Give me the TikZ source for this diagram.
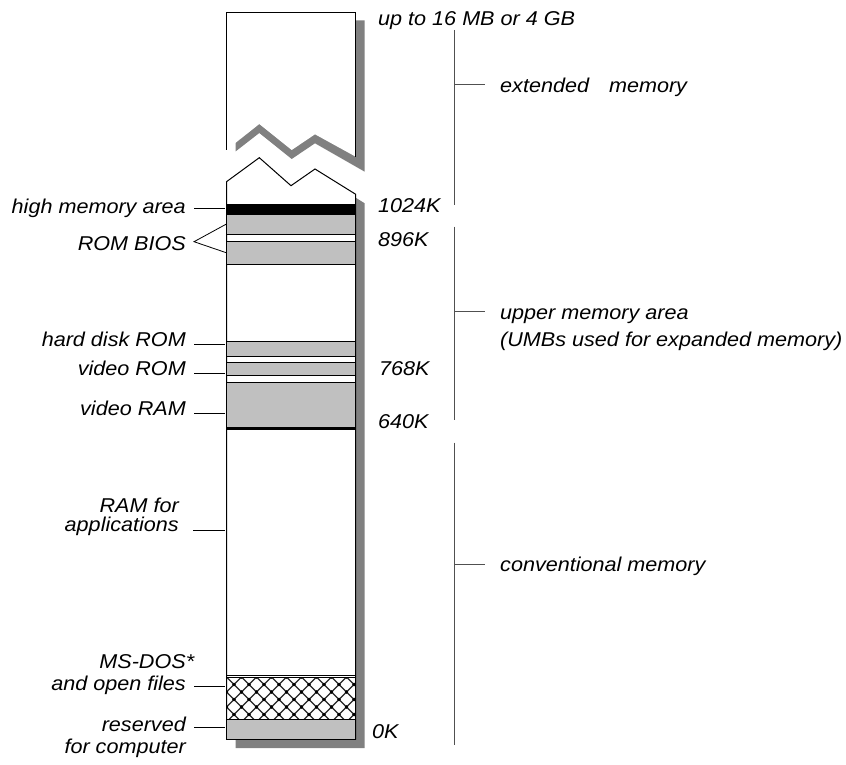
\documentclass[tikz,border=0pt]{standalone}
\usepackage{fontspec}
\setmainfont{Liberation Sans}[FakeStretch=1.08]
\usepackage{tikz}
\usetikzlibrary{positioning, calc}
\definecolor{bandgray}{HTML}{C0C0C0}
\definecolor{shadowgray}{HTML}{808080}
\definecolor{rangegray}{HTML}{505050}

\begin{document}
\begin{tikzpicture}[
    x=1pt, y=-1pt,
    font=\fontsize{20}{22}\selectfont\itshape,
    leftlbl/.style={anchor=base east, inner xsep=8pt, inner ysep=0pt, align=right},
    numlbl/.style={anchor=base west, inner sep=0pt},
    sidelbl/.style={anchor=base west, inner xsep=15pt, inner ysep=0pt, align=left},
    band/.style={draw=black, fill=bandgray, line width=1pt},
    leader/.style={draw=black, line width=0.8pt},
    rangeline/.style={draw=rangegray, line width=1pt},
    hatchline/.style={draw=black!85, line width=1.3pt}
]
    \useasboundingbox (0,0) rectangle (846,765);

    % drop shadows
    \fill[shadowgray] (235.5,20.5) -- (364.7,20.5) -- (364.7,171.7) -- (315,143.3) -- (291.7,159) -- (259.3,133) -- (235.5,151.5) -- cycle;
    \fill[shadowgray, shift={(9,9)}] (226.5,181.7) -- (259.3,157.7) -- (291,185.7) -- (315,169) -- (355.7,194.3) -- (355.7,739) -- (226.5,739) -- cycle;

    % broken column
    \fill[white] (226.5,12.5) -- (355.7,12.5) -- (355.7,156.7) -- (315,134.3) -- (291.7,150) -- (259.3,124) -- (226.5,150) -- cycle;
    \draw[leader, line width=1pt] (226.5,150) -- (226.5,12.5) -- (355.7,12.5) -- (355.7,156.7);
    \filldraw[fill=white, leader, line width=1pt] (226.5,181.7) -- (259.3,157.7) -- (291,185.7) -- (315,169) -- (355.7,194.3) -- (355.7,739) -- (226.5,739) -- cycle;

    % memory bands
    \fill[black] (226.5,204) rectangle (355.7,214);
    \filldraw[band] (226.5,214) rectangle (355.7,234.3);
    \filldraw[band] (226.5,241.3) rectangle (355.7,264.3);
    \filldraw[band] (226.5,341) rectangle (355.7,356);
    \filldraw[band] (226.5,362.3) rectangle (355.7,375);
    \filldraw[band] (226.5,382.3) rectangle (355.7,428.3);
    \draw[line width=2.5pt] (226.5,428.3) -- (355.7,428.3);
    \draw[line width=1pt] (226.5,675) -- (355.7,675);
    \begin{scope}
        \clip (226.5,677) rectangle (355.7,719.3);
        \foreach \k in {-3,...,12} {
            \draw[hatchline] ({226.5+15*\k},677) -- ++(45,45);
            \draw[hatchline] ({226.5+15*\k},677) -- ++(-45,45);
        }
        \foreach \j in {0,2,4}
            \foreach \i in {0,2,...,18}
                \fill ({226.5+7.5*\i},{677+7.5*\j}) circle (1.8pt);
        \foreach \j in {1,3,5}
            \foreach \i in {1,3,...,17}
                \fill ({226.5+7.5*\i},{677+7.5*\j}) circle (1.8pt);
    \end{scope}
    \draw[line width=1pt] (226.5,677) rectangle (355.7,719.3);
    \filldraw[band] (226.5,719.3) rectangle (355.7,739);

    % left labels
    \node[leftlbl] (hma) at (194,213) {high memory area};
    \node[leftlbl] (bios) at (194,250.7) {ROM BIOS};
    \node[leftlbl] (hdrom) at (194,346.7) {hard disk ROM};
    \node[leftlbl] (vrom) at (194,375.7) {video ROM};
    \node[leftlbl] (vram) at (194,415.7) {video RAM};
    \node[leftlbl, inner xsep=14pt] (ramapp) at (193,531) {RAM for\\[-3.3pt]applications};
    \node[leftlbl] (msdos) at (194,690) {MS-DOS\rlap{*}\\and open files};
    \node[leftlbl] (resv) at (194,753) {reserved\\[-0.7pt]for computer};

    \coordinate (hma-c) at (225,208.3);
    \coordinate (hdrom-c) at (225,344);
    \coordinate (vrom-c) at (225,373.7);
    \coordinate (vram-c) at (225,413.3);
    \coordinate (ramapp-c) at (225,530);
    \coordinate (msdos-c) at (225,686.7);
    \coordinate (resv-c) at (225,727.7);
    \coordinate (bios-a) at (226.5,224);
    \coordinate (bios-b) at (226.5,252.8);
    \coordinate (bios-p) at (0,241.7);

    \foreach \n in {hma,hdrom,vrom,vram,ramapp,msdos,resv}
        \draw[leader] (\n.east |- \n-c) -- (\n-c);
    \draw[leader] (bios-a) -- (bios.east |- bios-p) -- (bios-b);

    % address marks
    \node[numlbl] (top) at (378,25.5) {up to 16 MB or 4 GB};
    \node[numlbl] (k1024) at (378,212.3) {1024K};
    \node[numlbl] (k896) at (378,246.7) {896K};
    \node[numlbl] (k768) at (379,375) {768K};
    \node[numlbl] (k640) at (378,428) {640K};
    \node[numlbl] (k0) at (372,738.3) {0K};

    % memory ranges
    \node[sidelbl] (ext) at (485,92.7) {extended\hspace{14pt} memory};
    \node[sidelbl] (uma) at (485,346.7) {upper memory area\\[5.4pt](UMBs used for expanded memory)};
    \node[sidelbl] (conv) at (485,571.7) {conventional memory};

    \coordinate (ext-top) at (454.5,30);
    \coordinate (ext-bot) at (454.5,205);
    \coordinate (ext-tick) at (454.5,84.3);
    \coordinate (uma-top) at (454.5,226.7);
    \coordinate (uma-bot) at (454.5,420);
    \coordinate (uma-tick) at (454.5,311.7);
    \coordinate (conv-top) at (454.5,442.7);
    \coordinate (conv-bot) at (454.5,745);
    \coordinate (conv-tick) at (454.5,564);

    \foreach \r in {ext,uma,conv} {
        \draw[rangeline] (\r-top) -- (\r-bot);
        \draw[rangeline] (\r-tick) -- (\r-tick -| \r.west);
    }
\end{tikzpicture}
\end{document}
